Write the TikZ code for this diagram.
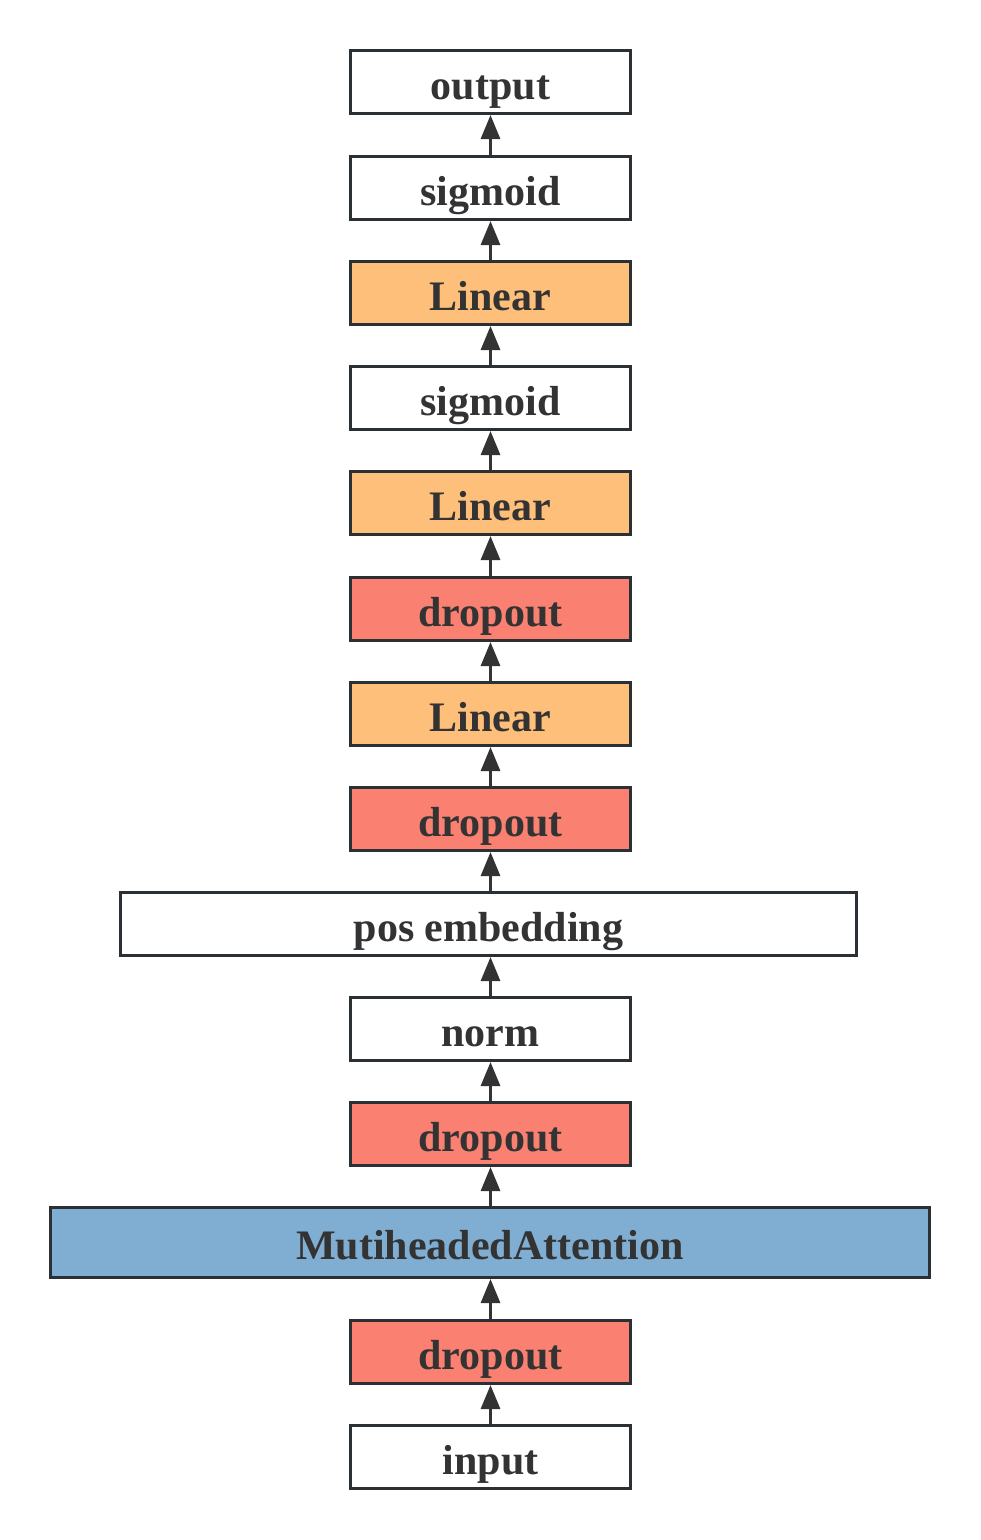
\documentclass[tikz,border=0pt]{standalone}
\usepackage{fontspec}
\setmainfont{Liberation Serif}
\usetikzlibrary{arrows.meta}
\definecolor{edge}{HTML}{2B3035}
\definecolor{txt}{HTML}{333333}
\definecolor{linfill}{HTML}{FDBF7A}
\definecolor{dropfill}{HTML}{FA8072}
\definecolor{attfill}{HTML}{80AED3}
\tikzset{
  layer/.style={draw=edge, line width=3pt, minimum width=280pt, minimum height=63pt,
    inner sep=0pt, text height=34pt, text depth=0pt, text=txt,
    font=\fontsize{42}{48}\selectfont\bfseries, fill=white},
  linbox/.style={layer, fill=linfill},
  dropbox/.style={layer, fill=dropfill},
  flow/.style={draw=txt, line width=3pt, -{Triangle[length=24pt,width=19pt]}}
}
\begin{document}
\begin{tikzpicture}[x=1pt,y=-1pt]
\useasboundingbox (0,0) rectangle (981,1540);
\node[layer] (out) at (490.5,82) {output};
\node[layer] (sig2) at (490.5,188) {sigmoid};
\node[linbox] (lin3) at (490.5,293) {Linear};
\node[layer] (sig1) at (490.5,398) {sigmoid};
\node[linbox] (lin2) at (490.5,503) {Linear};
\node[dropbox] (drop4) at (490.5,609) {dropout};
\node[linbox] (lin1) at (490.5,714) {Linear};
\node[dropbox] (drop3) at (490.5,819) {dropout};
\node[layer, minimum width=736pt] (pos) at (488.5,924) {pos embedding};
\node[layer] (norm) at (490.5,1029) {norm};
\node[dropbox] (drop2) at (490.5,1134) {dropout};
\node[layer, fill=attfill, minimum width=879pt, minimum height=70pt] (att) at (490,1242.5) {MutiheadedAttention};
\node[dropbox] (drop1) at (490.5,1352) {dropout};
\node[layer] (in) at (490.5,1457) {input};
\draw[flow] (in.north) -- (drop1.south);
\draw[flow] (drop1.north) -- (drop1.north |- att.south);
\draw[flow] (drop2.south |- att.north) -- (drop2.south);
\draw[flow] (drop2.north) -- (norm.south);
\draw[flow] (norm.north) -- (norm.north |- pos.south);
\draw[flow] (drop3.south |- pos.north) -- (drop3.south);
\draw[flow] (drop3.north) -- (lin1.south);
\draw[flow] (lin1.north) -- (drop4.south);
\draw[flow] (drop4.north) -- (lin2.south);
\draw[flow] (lin2.north) -- (sig1.south);
\draw[flow] (sig1.north) -- (lin3.south);
\draw[flow] (lin3.north) -- (sig2.south);
\draw[flow] (sig2.north) -- (out.south);
\end{tikzpicture}
\end{document}
